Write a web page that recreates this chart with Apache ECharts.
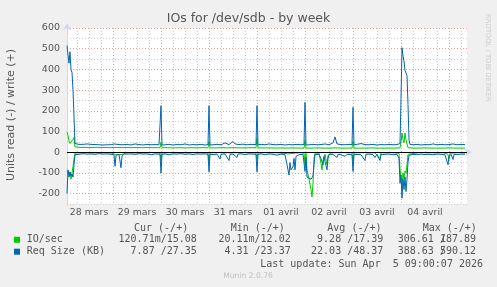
<!DOCTYPE html>
<html><head><meta charset="utf-8">
<script src="https://cdn.jsdelivr.net/npm/echarts@6/dist/echarts.min.js"></script>
<style>html,body{margin:0;padding:0;background:#f0f0f0}#c{width:497px;height:287px}</style>
</head><body><div id="c"></div>
<script>
// hours since Mar 28 01:00 (graph start); end = Apr 5 09:00 (200 h)
const dayLabels = ["28 mars","29 mars","30 mars","31 mars","01 avril","02 avril","03 avril","04 avril"];
const yTicks = [-200,-100,0,100,200,300,400,500,600];

// IO/sec, write (+)
const writeIO = [[0,98],[0.5,80],[1,55],[1.5,42],[2,48],[2.5,40],[3,62],[3.5,72],[4,26],[5,24],[7,23],[9,24],[11,22],[13,23],[15,24],[17,22],[19,23],[21,22],[23,23],[23.5,28],[24,22],[26,23],[28,22],[30,23],[32,22],[34,23],[36,22],[38,22],[40,23],[42,22],[44,22],[46.5,22],[47,48],[47.5,22],[50,22],[53,21],[56,22],[59,21],[62,22],[65,21],[68,22],[70.5,21],[71,52],[71.5,21],[74,21],[77,22],[80,21],[83,22],[86,21],[89,21],[92,22],[94.5,21],[95,68],[95.5,21],[98,21],[101,21],[104,20],[107,21],[110,20],[113,21],[116,20],[118.5,20],[119,57],[119.5,20],[122,20],[125,21],[128,20],[131,20],[134,21],[137,20],[140,20],[142.5,20],[143,52],[143.5,20],[146,20],[149,20],[152,21],[155,20],[158,20],[161,20],[164,20],[166.5,21],[167,50],[167.5,93],[168,60],[168.5,46],[169,93],[169.5,60],[170,40],[170.5,22],[173,20],[176,20],[179,21],[182,20],[185,20],[188,20],[191,21],[194,20],[197,20],[199,20]];
// IO/sec, read (-)
const readIO = [[0,90],[0.5,100],[1,110],[1.5,95],[2,130],[2.5,100],[3,70],[3.5,30],[4,4],[6,3],[10,2],[14,3],[18,2],[22,3],[24,10],[24.5,3],[27,12],[27.5,3],[30,2],[36,3],[42,2],[46.5,3],[47,40],[47.5,3],[52,2],[58,3],[64,2],[70.5,3],[71,45],[71.5,3],[76,2],[82,3],[88,2],[94.5,3],[95,35],[95.5,3],[100,2],[106,3],[111,8],[113,5],[116,3],[118.5,3],[119,60],[119.5,5],[120,85],[121,130],[121.5,125],[122,180],[122.5,215],[123,150],[123.5,30],[124,5],[126,4],[127,55],[127.5,85],[128,40],[129,10],[130,60],[130.5,15],[132,3],[138,2],[142.5,3],[143,40],[143.5,3],[148,2],[154,3],[156.5,30],[157,3],[162,2],[166,5],[166.5,80],[167,130],[167.5,160],[168,100],[168.5,130],[169,90],[169.5,100],[170,60],[170.5,10],[171,3],[176,2],[182,3],[188,2],[190.5,10],[191,35],[191.5,5],[196,2],[199,3]];
// Req Size (KB), write (+)
const writeReq = [[0,515],[0.5,470],[1,430],[1.5,485],[2,400],[2.5,385],[3,300],[3.5,170],[4,42],[5,36],[6,38],[7,35],[8,38],[9,36],[10,40],[11,36],[12,38],[13,35],[14,37],[15,41],[16,36],[17,38],[18,35],[19,37],[20,36],[21,39],[22,36],[23,37],[23.5,40],[24,35],[26,37],[28,36],[30,38],[32,35],[34,40],[36,37],[38,35],[40,38],[42,36],[44,37],[46,36],[46.5,38],[47,225],[47.5,35],[49,36],[51,38],[53,35],[55,37],[57,36],[59,40],[61,35],[63,37],[65,36],[67,38],[69,35],[70.5,37],[71,225],[71.5,35],[73,36],[75,38],[77,36],[79,45],[81,37],[83,52],[84,40],[86,37],[88,39],[90,36],[92,38],[94.5,37],[95,225],[95.5,36],[97,38],[99,36],[101,40],[103,37],[105,36],[107,38],[109,35],[111,37],[113,36],[115,38],[117,36],[118.5,38],[119,241],[119.5,35],[121,36],[123,38],[125,36],[127,37],[129,40],[131,36],[133,45],[134,74],[135,40],[137,37],[139,36],[141,38],[142.5,37],[143,217],[143.5,36],[145,38],[147,42],[149,37],[151,36],[153,38],[155,35],[157,37],[159,36],[161,38],[163,36],[165,37],[166.5,42],[167,260],[167.5,505],[168,465],[168.5,440],[169,395],[169.5,400],[170,370],[170.5,230],[171,60],[171.5,38],[173,36],[175,38],[177,35],[179,37],[181,36],[183,40],[185,36],[187,38],[189,36],[191,37],[193,40],[195,36],[197,38],[199,37]];
// Req Size (KB), read (-)
const readReq = [[0,200],[0.5,85],[1,120],[1.5,95],[2,115],[2.5,105],[3,120],[3.5,60],[4,12],[5,8],[6,10],[8,7],[10,9],[12,8],[14,10],[16,7],[18,9],[20,8],[22,10],[23.5,12],[24,68],[24.5,15],[25.5,22],[26,10],[27,75],[27.5,18],[28.5,8],[30,9],[32,8],[34,10],[36,7],[38,9],[40,8],[42,12],[44,8],[46.5,10],[47,100],[47.5,10],[49,8],[51,12],[53,8],[55,9],[57,7],[59,10],[61,8],[63,11],[65,8],[67,9],[69,8],[70.5,10],[71,95],[71.5,9],[73,12],[75,9],[76.5,33],[77,10],[79,8],[81,40],[81.5,10],[83,9],[85,25],[85.5,9],[87,8],[89,11],[91,8],[93,9],[94.5,10],[95,95],[95.5,10],[97,8],[99,12],[101,8],[103,10],[105,14],[107,9],[109,12],[110,60],[111,110],[111.5,50],[112,85],[113,70],[113.5,30],[114,85],[114.5,20],[116,12],[118,10],[118.5,15],[119,93],[119.5,25],[120,120],[121,118],[122,130],[123,115],[123.5,60],[124,12],[126,10],[127,30],[128,62],[128.5,20],[129,45],[130,85],[130.5,30],[131,12],[133,10],[135,25],[135.5,10],[137,12],[139,20],[140,10],[142.5,12],[143,93],[143.5,12],[145,10],[147,12],[149,40],[149.5,10],[151,9],[153,12],[154,25],[155,10],[156.5,40],[157,12],[159,10],[161,9],[163,12],[165,10],[166,30],[166.5,150],[167,110],[167.5,222],[168,130],[168.5,180],[169,120],[169.5,190],[170,130],[170.5,50],[171,15],[173,10],[175,12],[177,9],[179,11],[181,10],[183,12],[185,9],[187,10],[189,12],[190.5,60],[191,20],[192,10],[193,35],[193.5,10],[195,12],[197,9],[199,10]];

// legend table
const legendNames = ["IO/sec","Req Size (KB)"];
const legendColors = ["#00CC00","#0066B3"];
const colHeaders = ["Cur (-/+)","Min (-/+)","Avg (-/+)","Max (-/+)"];
const curVals = [["120.71m","15.08"],["7.87","27.35"]];
const minVals = [["20.11m","12.02"],["4.31","23.37"]];
const avgVals = [["9.28","17.39"],["22.03","48.37"]];
const maxVals = [["306.61","187.89"],["388.63","590.12"]];

const MAJOR = '#e8a3a3', MINOR = '#cfcfcf', AXIS = '#CFD6F8', FONT = '#555';
const xColors = [];
for (let i = 0; i < 24; i++) {
  const clock = (i + 1) % 24;
  xColors.push(clock === 0 ? MAJOR : (clock % 6 === 0 ? MINOR : 'rgba(0,0,0,0)'));
}
const neg = a => a.map(p => [p[0], -p[1]]);

const mono = '10px "DejaVu Sans Mono"';
const CW = 6.02;
const graphics = [];
graphics.push({type:'text', x:248.5, y:19, style:{text:'IOs for /dev/sdb - by week', font:'12.5px "DejaVu Sans"', fill:'#555', textAlign:'center', textVerticalAlign:'middle', verticalAlign:'middle'}});
graphics.push({type:'text', x:11, y:115, rotation:Math.PI/2, style:{text:'Units read (-) / write (+)', font:'11px "DejaVu Sans"', fill:FONT, textAlign:'center', textVerticalAlign:'middle', verticalAlign:'middle'}});
graphics.push({type:'text', x:488, y:14, rotation:-Math.PI/2, style:{text:'RRDTOOL / TOBI OETIKER', font:'6.8px "DejaVu Sans"', fill:'#cccccc', textAlign:'left', textVerticalAlign:'middle', verticalAlign:'middle'}});
const headX = [134, 230.7, 327.3, 422.7];
colHeaders.forEach((h, i) => graphics.push({type:'text', x:headX[i], y:228, style:{text:h, font:mono, fill:FONT, textAlign:'left', textVerticalAlign:'middle', verticalAlign:'middle'}}));
const rowY = [239.8, 251.7];
const rightX = [196.8, 290.7, 383.3];
legendNames.forEach((n, r) => {
  graphics.push({type:'rect', shape:{x:14, y:rowY[r]-3, width:6, height:6}, style:{fill:legendColors[r]}});
  graphics.push({type:'text', x:26.7, y:rowY[r], style:{text:n, font:mono, fill:FONT, textAlign:'left', textVerticalAlign:'middle', verticalAlign:'middle'}});
  [curVals, minVals, avgVals].forEach((vals, c) => {
    const a = vals[r][0], b = vals[r][1];
    const txt = a.endsWith('m') ? a + '/' + b : a + ' /' + b;
    graphics.push({type:'text', x:rightX[c], y:rowY[r], style:{text:txt, font:mono, fill:FONT, textAlign:'right', textVerticalAlign:'middle', verticalAlign:'middle'}});
  });
  const m = maxVals[r];
  const mt = m[0] + ' ' + m[1];
  const startX = 476 - mt.length * CW;
  graphics.push({type:'text', x:startX, y:rowY[r], style:{text:mt, font:mono, fill:FONT, textAlign:'left', textVerticalAlign:'middle', verticalAlign:'middle'}});
  graphics.push({type:'text', x:startX + (m[0].length + 1) * CW, y:rowY[r], style:{text:'/', font:mono, fill:FONT, textAlign:'left', textVerticalAlign:'middle', verticalAlign:'middle'}});
});
graphics.push({type:'text', x:483, y:264, style:{text:'Last update: Sun Apr  5 09:00:07 2026', font:mono, fill:FONT, textAlign:'right', textVerticalAlign:'middle', verticalAlign:'middle'}});
graphics.push({type:'text', x:248, y:276, style:{text:'Munin 2.0.76', font:'7.6px "DejaVu Sans"', fill:'#c0c0c0', textAlign:'center', textVerticalAlign:'middle', verticalAlign:'middle'}});

const lineS = (name, data, color, z) => ({
  name, type:'line', data, symbol:'none', showSymbol:false, animation:false, z,
  lineStyle:{color, width:1}, itemStyle:{color}, emphasis:{disabled:true}
});

const chart = echarts.init(document.getElementById('c'));
chart.setOption({
  backgroundColor:'#f0f0f0',
  animation:false,
  grid:{left:67, top:28, width:400, height:176, show:true, backgroundColor:'#ffffff', borderWidth:0, containLabel:false},
  xAxis:{
    type:'value', min:0, max:200, interval:1,
    axisLine:{show:true, lineStyle:{color:AXIS, width:1}, symbol:['none','arrow'], symbolSize:[6,7], symbolOffset:[0,5]},
    axisTick:{show:false},
    axisLabel:{margin:4, color:FONT, fontFamily:'DejaVu Sans', fontSize:9.4, showMinLabel:true, showMaxLabel:true,
      formatter: v => { const k = Math.round(v) - 11; return (k >= 0 && k % 24 === 0 && dayLabels[k/24]) ? dayLabels[k/24] : ''; }},
    splitLine:{show:true, lineStyle:{color:xColors, width:1, type:[1,2]}}
  },
  yAxis:{
    type:'value', min:-250, max:600, interval:50,
    axisLine:{show:true, lineStyle:{color:AXIS, width:1}, symbol:['none','arrow'], symbolSize:[6,7], symbolOffset:[0,5]},
    axisTick:{show:false},
    axisLabel:{margin:7, color:FONT, fontFamily:'DejaVu Sans', fontSize:9.5,
      formatter: v => yTicks.indexOf(Math.round(v)) >= 0 ? String(Math.round(v)) : ''},
    splitLine:{show:true, lineStyle:{color:[MINOR, MAJOR], width:1, type:[1,2]}}
  },
  series:[
    Object.assign(lineS('IO/sec write', writeIO, '#00CC00', 2), {
      markLine:{silent:true, symbol:'none', label:{show:false}, animation:false,
        lineStyle:{color:'#000', width:1, type:'solid'}, data:[{yAxis:0}]}
    }),
    lineS('IO/sec read', neg(readIO), '#00CC00', 2),
    lineS('Req Size write', writeReq, '#0066B3', 3),
    lineS('Req Size read', neg(readReq), '#0066B3', 3)
  ],
  graphic:graphics
});
</script></body></html>
